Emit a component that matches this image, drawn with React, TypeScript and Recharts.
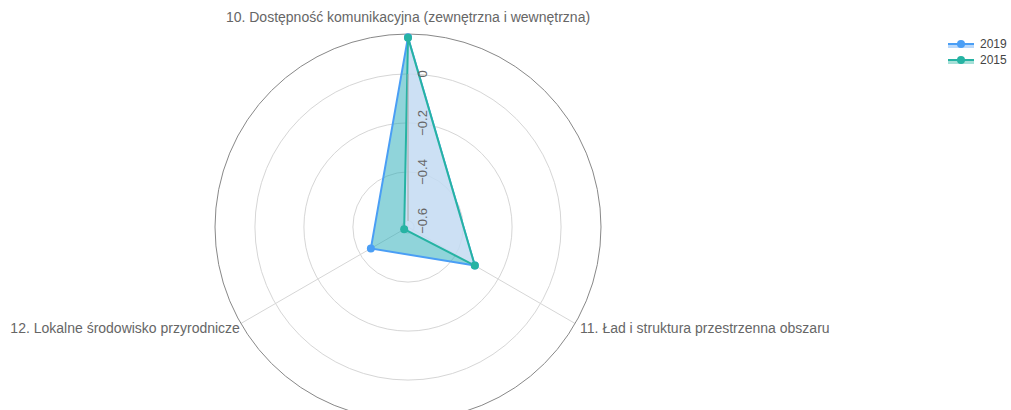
import React from "react";
import {
  Legend,
  PolarAngleAxis,
  PolarGrid,
  PolarRadiusAxis,
  Radar,
  RadarChart,
} from "recharts";

if (typeof document !== "undefined") document.body.style.margin = "0";

const categories = [
  "10. Dostępność komunikacyjna (zewnętrzna i wewnętrzna)",
  "11. Ład i struktura przestrzenna obszaru",
  "12. Lokalne środowisko przyrodnicze",
];
const values2019 = [0.15, -0.31, -0.45];
const values2015 = [0.148, -0.31, -0.607];
const radiusTicks = [-0.6, -0.4, -0.2, 0];
const radiusDomain = [-0.625, 0.163];

const data = categories.map((c, i) => ({
  cat: c,
  y2019: values2019[i],
  y2015: values2015[i],
}));

const BLUE = "#4a9ef5";
const GREEN = "#26b3a3";
const FONT = "'Liberation Sans', Arial, sans-serif";
const TEXT = "#666";
const R = 193;

function AngleTick(props: any) {
  const { x, y, payload, textAnchor } = props;
  let dx = 0;
  let dy = 5;
  if (textAnchor === "middle") dy = -4;
  else if (textAnchor === "end") dx = 6;
  else dx = -2;
  return (
    <text x={x + dx} y={y + dy} textAnchor={textAnchor} fontSize={14} fontFamily={FONT} fill={TEXT}>
      {payload.value}
    </text>
  );
}

function RadiusTick(props: any) {
  const { x, y, payload } = props;
  const tx = x + 15;
  const label = String(payload.value).replace("-", "\u2212");
  return (
    <text
      x={tx}
      y={y}
      transform={`rotate(-90 ${tx} ${y})`}
      textAnchor="middle"
      dominantBaseline="central"
      fontSize={13}
      fontFamily={FONT}
      fill={TEXT}
    >
      {label}
    </text>
  );
}

function LegendBox(props: any) {
  const items = [
    { name: "2019", color: BLUE, fill: "#b9d8fa" },
    { name: "2015", color: GREEN, fill: "#a6e0d8" },
  ];
  return (
    <svg width={64} height={40}>
      {items.map((it, i) => {
        const cy = 8 + i * 16;
        return (
          <g key={it.name}>
            <rect x={1} y={cy} width={26} height={4} fill={it.fill} />
            <line x1={1} x2={27} y1={cy} y2={cy} stroke={it.color} strokeWidth={2} />
            <circle cx={14} cy={cy} r={4} fill={it.color} />
            <text x={33} y={cy + 4} fontSize={12} fontFamily={FONT} fill="#444">
              {it.name}
            </text>
          </g>
        );
      })}
    </svg>
  );
}

export default function App() {
  return (
    <div style={{ width: 1011, height: 410, background: "#fff" }}>
      <RadarChart width={1011} height={410} data={data} cx={408} cy={227} outerRadius={R} margin={{ top: 0, right: 0, bottom: 0, left: 0 }}>
        <PolarGrid gridType="circle" stroke="#d6d6d6" />
        <PolarGrid gridType="circle" polarRadius={[R]} radialLines={false} stroke="#888" />
        <PolarAngleAxis dataKey="cat" tick={<AngleTick />} tickLine={false} axisLine={false} />
        <PolarRadiusAxis
          angle={90}
          type="number"
          scale="linear"
          domain={radiusDomain}
          ticks={radiusTicks}
          tickCount={0}
          allowDataOverflow
          tick={<RadiusTick />}
          axisLine={{ stroke: "#aaa" }}
          tickLine={false}
        />
        <Radar
          name="2019"
          dataKey="y2019"
          stroke={BLUE}
          strokeWidth={2}
          fill="#21a9b5"
          fillOpacity={0.5}
          dot={{ r: 4, fill: BLUE, stroke: BLUE, strokeWidth: 0, fillOpacity: 1 }}
          isAnimationActive={false}
        />
        <Radar
          name="2015"
          dataKey="y2015"
          stroke={GREEN}
          strokeWidth={2}
          fill="#e6e6ff"
          fillOpacity={0.7}
          dot={{ r: 4, fill: GREEN, stroke: GREEN, strokeWidth: 0, fillOpacity: 1 }}
          isAnimationActive={false}
        />
        <Legend
          layout="vertical"
          align="right"
          verticalAlign="top"
          wrapperStyle={{ top: 36, right: 0, left: "auto", width: 64 }}
          content={<LegendBox />}
        />
      </RadarChart>
    </div>
  );
}
